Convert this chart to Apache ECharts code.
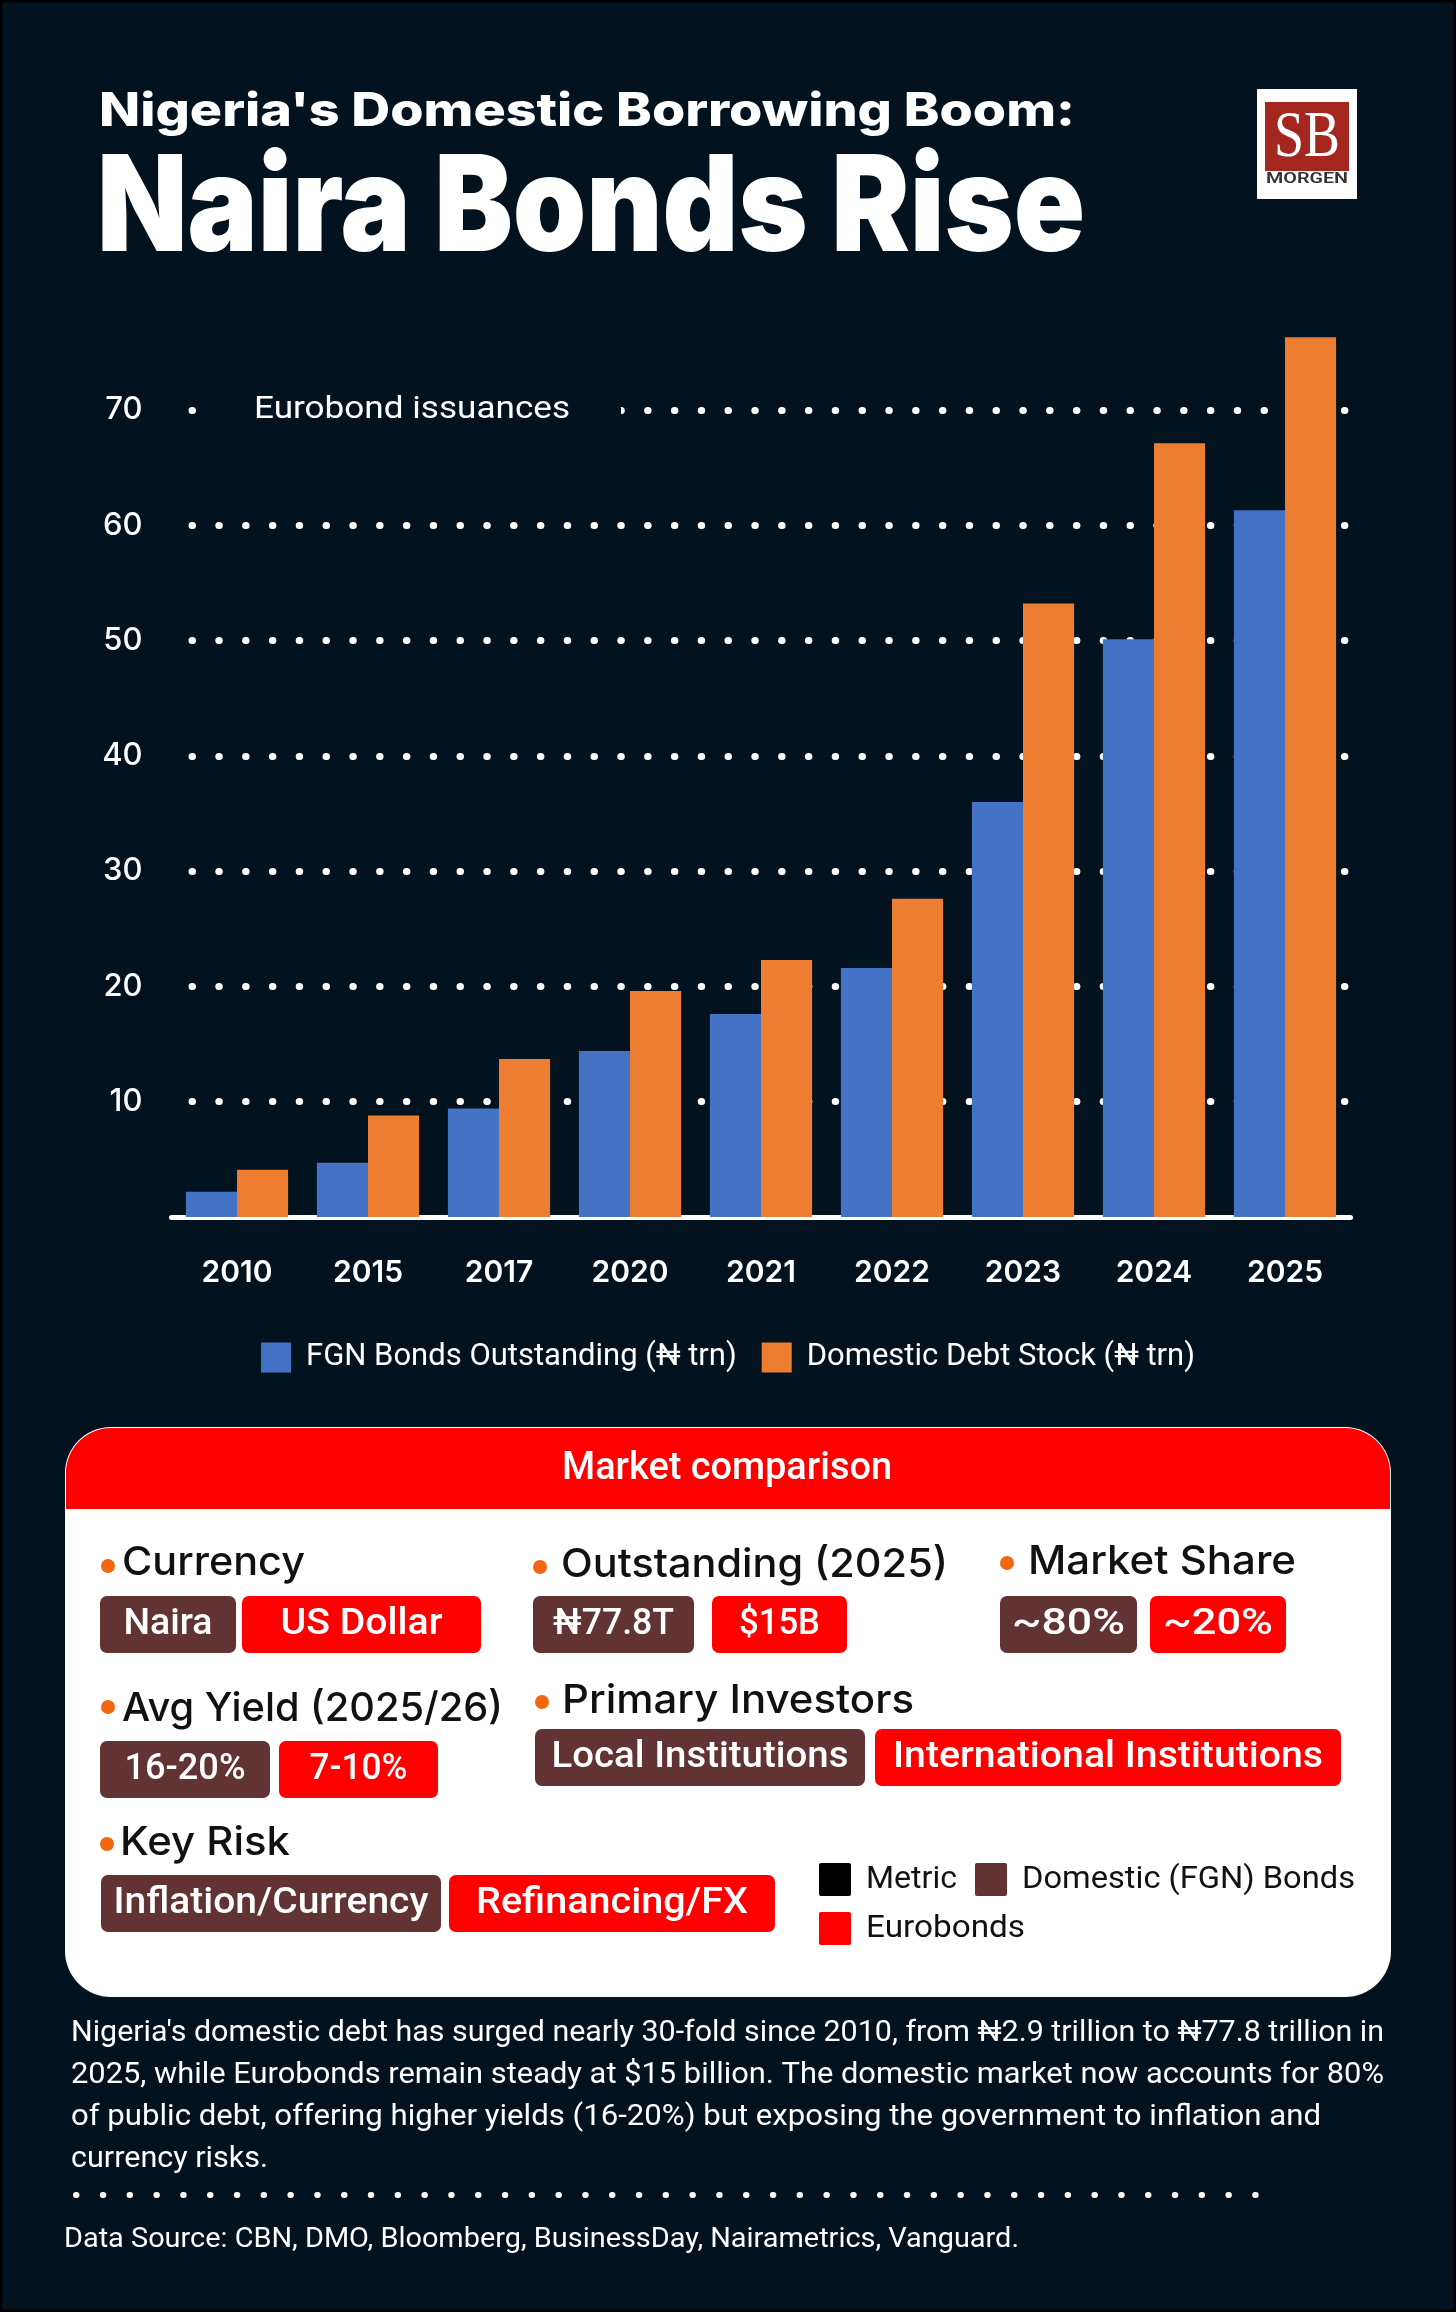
<!DOCTYPE html>
<html>
<head>
<meta charset="utf-8">
<script src="https://cdn.jsdelivr.net/npm/echarts@6/dist/echarts.min.js"></script>
<style>
  html, body { margin: 0; padding: 0; background: #03121f; }
  #content { width: 1456px; height: 2312px; }
</style>
</head>
<body>
<div id="content"></div>
<script>
// bar chart data (trillion naira)
var years = ['2010', '2015', '2017', '2020', '2021', '2022', '2023', '2024', '2025'];
var fgnBonds = [2.2, 4.7, 9.4, 14.4, 17.6, 21.6, 36.0, 50.1, 61.3];
var domesticDebt = [4.1, 8.8, 13.7, 19.6, 22.3, 27.6, 53.2, 67.1, 76.3];
var seriesNames = ['FGN Bonds Outstanding (₦ trn)', 'Domestic Debt Stock (₦ trn)'];

// comparison table
var metrics = ['Currency', 'Outstanding (2025)', 'Market Share', 'Avg Yield (2025/26)', 'Primary Investors', 'Key Risk'];
var domesticVals = ['Naira', '₦77.8T', '~80%', '16-20%', 'Local Institutions', 'Inflation/Currency'];
var euroVals = ['US Dollar', '$15B', '~20%', '7-10%', 'International Institutions', 'Refinancing/FX'];
var keyNames = ['Metric', 'Domestic (FGN) Bonds', 'Eurobonds'];

var noteLines = [
  "Nigeria's domestic debt has surged nearly 30-fold since 2010, from ₦2.9 trillion to ₦77.8 trillion in",
  '2025, while Eurobonds remain steady at $15 billion. The domestic market now accounts for 80%',
  'of public debt, offering higher yields (16-20%) but exposing the government to inflation and',
  'currency risks.'
];
var sourceText = 'Data Source: CBN, DMO, Bloomberg, BusinessDay, Nairametrics, Vanguard.';

var BG = '#03121f', BROWN = '#623333', RED = '#fe0000', ORANGE = '#f4650f';

// layout of the table cells: heading pos + two badge boxes [x0, x1]
var cells = [
  { hx: 122, hy: 1563, hw: 183, dot: [108, 1566], by: 1596, b1: [100, 236], b2: [242, 481], t1: 89, t2: 162 },
  { hx: 561, hy: 1565, hw: 387, dot: [540, 1567], by: 1596, b1: [533, 694], b2: [712, 847], t1: 121, t2: 81 },
  { hx: 1028, hy: 1562, hw: 268, dot: [1007, 1563], by: 1596, b1: [1000, 1137], b2: [1150, 1286], t1: 113, t2: 110 },
  { hx: 122, hy: 1709, hw: 381, dot: [108, 1707], by: 1741, b1: [100, 270], b2: [279, 438], t1: 121, t2: 98 },
  { hx: 562, hy: 1701, hw: 352, dot: [542, 1702], by: 1729, b1: [535, 865], b2: [875, 1341], t1: 297, t2: 430 },
  { hx: 120, hy: 1843, hw: 170, dot: [107, 1844], by: 1875, b1: [101, 441], b2: [449, 775], t1: 315, t2: 272 }
];

var measureCtx = document.createElement('canvas').getContext('2d');

function txt(str, x, y, o) {
  var fam = o.family || 'Roboto';
  var el = {
    type: 'text', x: x, y: y, z: 100,
    style: {
      text: str, fill: o.color || '#fff',
      fontSize: o.size, fontWeight: o.weight || 400, fontFamily: fam,
      textAlign: o.align || 'left', verticalAlign: 'middle'
    }
  };
  if (o.width) {
    measureCtx.font = (o.weight || 400) + ' ' + o.size + 'px ' + fam;
    el.scaleX = o.width / measureCtx.measureText(str).width;
  }
  return el;
}

function box(x, y, w, h, color, r) {
  return { type: 'rect', z: 90, shape: { x: x, y: y, width: w, height: h, r: r || 0 }, style: { fill: color } };
}

var graphics = [];

// thin dark frame
graphics.push({ type: 'rect', z: 110, shape: { x: 1, y: 1, width: 1454, height: 2310 }, style: { fill: null, stroke: '#000', lineWidth: 3 } });

// title
graphics.push(txt("Nigeria's Domestic Borrowing Boom:", 99, 112, { size: 46, weight: 800, family: 'Inter', width: 976 }));
graphics.push(txt('Naira Bonds Rise', 97, 211, { size: 134, weight: 900, family: 'Inter', width: 988 }));

// logo
graphics.push(box(1257, 89, 100, 110, '#ffffff'));
graphics.push(box(1265, 102, 84, 69, '#a3261f'));
graphics.push(txt('SB', 1307, 139, { size: 66, family: "'Liberation Serif'", color: '#fff', align: 'center', width: 66 }));
graphics.push(txt('MORGEN', 1307, 179, { size: 15, weight: 600, family: 'Roboto', color: '#333', align: 'center', width: 82 }));

// label on the 70 line
graphics.push(box(200, 392, 421, 36, BG));
graphics.push(txt('Eurobond issuances', 254, 410, { size: 31, weight: 400, width: 316 }));

// comparison card
graphics.push(box(65, 1427, 1326, 570, '#ffffff', 46));
graphics.push(box(66, 1428, 1324, 81, RED, [45, 45, 0, 0]));
graphics.push(txt('Market comparison', 727, 1469, { size: 38, weight: 500, align: 'center', width: 330 }));

cells.forEach(function (c, i) {
  graphics.push({ type: 'circle', z: 100, shape: { cx: c.dot[0], cy: c.dot[1], r: 7 }, style: { fill: ORANGE } });
  graphics.push(txt(metrics[i], c.hx, c.hy, { size: 40, weight: 500, family: 'Inter', color: '#111', width: c.hw }));
  graphics.push(box(c.b1[0], c.by, c.b1[1] - c.b1[0], 57, BROWN, 7));
  graphics.push(box(c.b2[0], c.by, c.b2[1] - c.b2[0], 57, RED, 7));
  graphics.push(txt(domesticVals[i], (c.b1[0] + c.b1[1]) / 2, c.by + 29, { size: 37, weight: 500, align: 'center', width: c.t1 }));
  graphics.push(txt(euroVals[i], (c.b2[0] + c.b2[1]) / 2, c.by + 29, { size: 37, weight: 500, align: 'center', width: c.t2 }));
});

// small key inside the card
var keyPos = [[819, 1863, '#000000', 91], [975, 1863, BROWN, 333], [819, 1912, RED, 159]];
keyPos.forEach(function (k, i) {
  graphics.push(box(k[0], k[1], 32, 33, k[2], 2));
  graphics.push(txt(keyNames[i], k[0] + 47, k[1] + 17, { size: 31, color: '#111', width: k[3] }));
});

// note below
var noteY = [2034, 2076, 2118, 2160];
var noteW = [1313, 1313, 1250, 197];
noteLines.forEach(function (line, i) {
  graphics.push(txt(line, 71, noteY[i], { size: 29, width: noteW[i] }));
});
graphics.push({
  type: 'line', z: 100,
  shape: { x1: 76, y1: 2195, x2: 1258, y2: 2195 },
  style: { stroke: '#fff', lineWidth: 6, lineDash: [0.5, 26.3], lineCap: 'round' }
});
graphics.push(txt(sourceText, 64, 2240, { size: 28, width: 955 }));

var chart = echarts.init(document.getElementById('content'));

chart.setOption({
  backgroundColor: BG,
  animation: false,
  grid: { left: 171.5, right: 105.5, top: 294.6, bottom: 1095 },
  legend: {
    data: seriesNames,
    left: 'center',
    top: 1342,
    padding: 0,
    icon: 'rect',
    itemWidth: 30,
    itemHeight: 30,
    itemGap: 25,
    textStyle: { color: '#fff', fontSize: 31, fontFamily: 'Roboto', padding: [0, 0, 0, 10] }
  },
  xAxis: {
    type: 'category',
    data: years,
    axisTick: { show: false },
    axisLine: { lineStyle: { color: '#fff', width: 5 } },
    axisLabel: { color: '#fff', fontSize: 30, fontWeight: 600, fontFamily: 'Inter', margin: 41 }
  },
  yAxis: {
    type: 'value',
    min: 0,
    max: 80,
    interval: 10,
    axisLine: { show: false },
    axisTick: { show: false },
    axisLabel: { showMinLabel: false, showMaxLabel: false, color: '#fff', fontSize: 31, fontWeight: 500, fontFamily: 'Inter', margin: 29 },
    splitLine: {
      showMinLine: false,
      showMaxLine: false,
      lineStyle: { color: '#fff', width: 7, type: [0.5, 26.3], dashOffset: 6.3, cap: 'round' }
    }
  },
  series: [
    { name: seriesNames[0], type: 'bar', data: fgnBonds, barGap: '0%', barCategoryGap: '22%', itemStyle: { color: '#4472c4' } },
    { name: seriesNames[1], type: 'bar', data: domesticDebt, itemStyle: { color: '#ed7d31' } }
  ],
  graphic: graphics
});
</script>
</body>
</html>
